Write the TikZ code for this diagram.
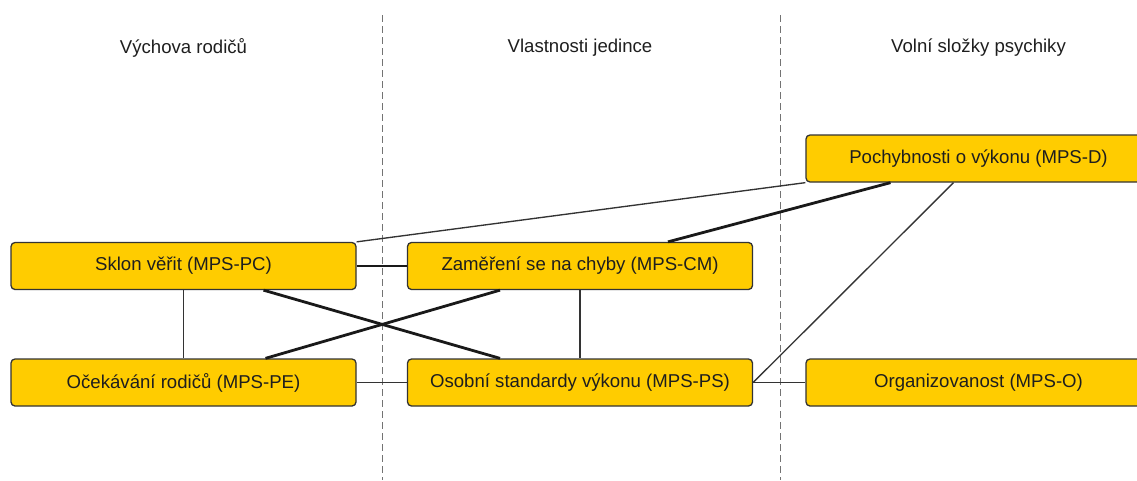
\documentclass[tikz,border=0pt]{standalone}
\usepackage{fontspec}
\setmainfont{Liberation Sans}
\usepackage{xcolor}
\usetikzlibrary{positioning}

\definecolor{mpsfill}{HTML}{FFCC00}
\definecolor{mpsline}{HTML}{333333}
\definecolor{mpstext}{HTML}{1E1E1E}

\begin{document}
\begin{tikzpicture}[x=1pt, y=-1pt,
        mps/.style={draw=mpsline, line width=1.3pt, fill=mpsfill, rounded corners=4pt,
            minimum width=345pt, minimum height=47pt, text=mpstext,
            font=\fontsize{18.6}{22}\selectfont},
        head/.style={text=mpstext, font=\fontsize{18.6}{22}\selectfont},
        rel/.style={draw=mpsline, line width=1.35pt},
        strong/.style={draw=black!90, line width=2.8pt},
        sep/.style={draw=black!55, line width=1pt, dash pattern=on 7pt off 4pt},
    ]
        \useasboundingbox (0,0) rectangle (1137,480);
        \clip (0,0) rectangle (1137,480);

        % column separators
        \draw[sep] (382,15) -- (382,480);
        \draw[sep] (780,15) -- (780,480);

        % column headings
        \node[head] (h1) at (183.5,48) {Výchova rodičů};
        \node[head] (h2) at (580,48)   {Vlastnosti jedince};
        \node[head] (h3) at (978.5,48) {Volní složky psychiky};

        % scales
        \node[mps] (pd) at (978.5,158.5) {Pochybnosti o výkonu (MPS-D)};
        \node[mps] (pc) at (183.5,266)   {Sklon věřit (MPS-PC)};
        \node[mps] (cm) at (580,266)     {Zaměření se na chyby (MPS-CM)};
        \node[mps] (pe) at (183.5,382.5) {Očekávání rodičů (MPS-PE)};
        \node[mps] (ps) at (580,382.5)   {Osobní standardy výkonu (MPS-PS)};
        \node[mps] (o)  at (978.5,382.5) {Organizovanost (MPS-O)};

        % links
        \draw[rel] (pd.south west) -- (pc.north east);
        \draw[strong] ([xshift=-88pt]pd.south) -- ([xshift=88pt]cm.north);
        \draw[rel] ([xshift=-25pt]pd.south) -- (ps.east);
        \draw[strong] (pc.east) -- (cm.west);
        \draw[rel] (pc.south) -- (pe.north);
        \draw[strong] ([xshift=80pt]pc.south) -- ([xshift=-80pt]ps.north);
        \draw[strong] ([xshift=82pt]pe.north) -- ([xshift=-80pt]cm.south);
        \draw[rel] (cm.south) -- (ps.north);
        \draw[rel] (pe.east) -- (ps.west);
        \draw[rel] (ps.east) -- (o.west);
    \end{tikzpicture}
\end{document}
